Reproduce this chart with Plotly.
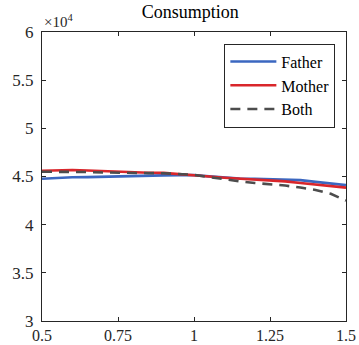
import plotly.graph_objects as go

x = [0.5, 0.55, 0.6, 0.65, 0.7, 0.75, 0.8, 0.85, 0.9, 0.95, 1.0, 1.05, 1.1, 1.15, 1.2, 1.25, 1.3, 1.35, 1.4, 1.45, 1.5]
father = [44760, 44850, 44920, 44930, 44980, 45030, 45080, 45100, 45120, 45140, 45150, 45010, 44870, 44800, 44760, 44730, 44640, 44620, 44440, 44270, 44100]
mother = [45600, 45660, 45680, 45620, 45560, 45450, 45410, 45390, 45380, 45270, 45170, 45000, 44870, 44780, 44700, 44600, 44490, 44320, 44160, 44000, 43840]
both = [45500, 45500, 45500, 45460, 45420, 45380, 45360, 45350, 45340, 45280, 45170, 44940, 44680, 44500, 44330, 44200, 44060, 43850, 43600, 43200, 42500]

yticks = [30000, 35000, 40000, 45000, 50000, 55000, 60000]
ytick_text = ["3", "3.5", "4", "4.5", "5", "5.5", "6"]
xticks = [0.5, 0.75, 1, 1.25, 1.5]
xtick_text = ["0.5", "0.75", "1", "1.25", "1.5"]

font = "Liberation Serif, Times New Roman, serif"

fig = go.Figure()
fig.add_trace(go.Scatter(x=x, y=father, mode="lines", name="Father",
                         line=dict(color="#3b67c0", width=2.6)))
fig.add_trace(go.Scatter(x=x, y=mother, mode="lines", name="Mother",
                         line=dict(color="#d9262b", width=2.6)))
fig.add_trace(go.Scatter(x=x, y=both, mode="lines", name="Both",
                         line=dict(color="#4d4d4d", width=2.6, dash="10px,7px")))

axis_common = dict(showgrid=False, zeroline=False, showline=True, linecolor="#262626",
                   linewidth=1, mirror="ticks", ticks="inside", ticklen=4,
                   tickcolor="#262626", automargin=False)

fig.update_layout(
    width=359, height=345,
    margin=dict(l=42, r=13, t=32, b=24),
    paper_bgcolor="white", plot_bgcolor="white",
    title=dict(text="Consumption", x=0.53, xanchor="center", y=0.985, yanchor="top",
               font=dict(family=font, size=18, color="black")),
    xaxis=dict(range=[0.5, 1.5], tickvals=xticks, ticktext=xtick_text,
               ticklabelstandoff=0, tickfont=dict(family=font, size=16, color="#262626"),
               **axis_common),
    yaxis=dict(range=[30000, 60000], tickvals=yticks, ticktext=ytick_text,
               ticklabelstandoff=4, tickfont=dict(family=font, size=17, color="#262626"),
               **axis_common),
    legend=dict(x=0.965, y=0.96, xanchor="right", yanchor="top",
                bgcolor="white", bordercolor="#262626", borderwidth=1,
                font=dict(family=font, size=16, color="black"),
                tracegroupgap=0, itemwidth=46),
    showlegend=True,
    annotations=[dict(text="×10<sup>4</sup>", xref="paper", yref="paper", x=0.0, y=1.0,
                      xanchor="left", yanchor="bottom", showarrow=False,
                      font=dict(family=font, size=15, color="#262626"))],
)

fig.write_html("out.html")
